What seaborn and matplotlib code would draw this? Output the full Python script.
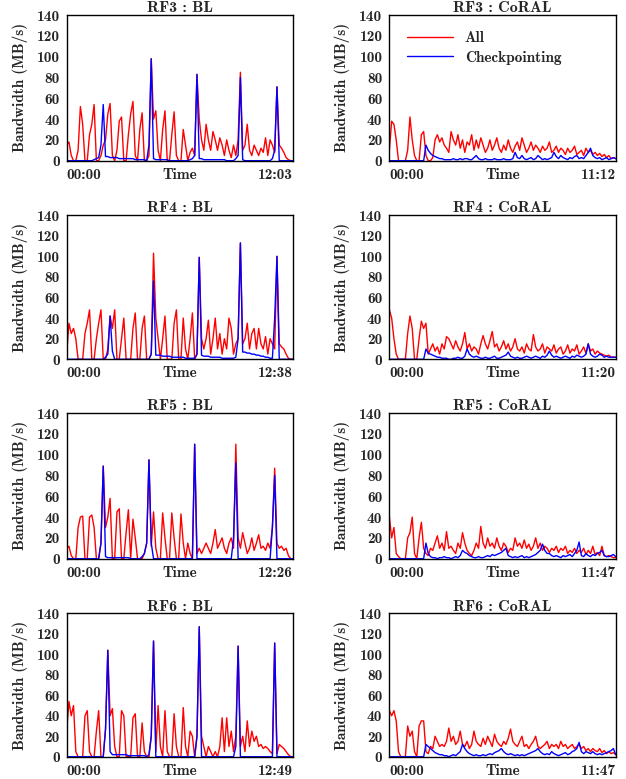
import matplotlib
matplotlib.use("Agg")
import matplotlib.pyplot as plt
import seaborn as sns
import pandas as pd

# bandwidth samples (MB/s), evenly spaced in time
rf3_bl_all = [15, 18, 5, 0, 0, 10, 52, 35, 0, 0, 25, 35, 54, 0, 0, 5, 15, 20, 45, 55,
              5, 0, 10, 38, 42, 0, 0, 25, 45, 57, 5, 0, 30, 46, 0, 0, 5, 98, 40, 48,
              10, 0, 30, 48, 0, 0, 25, 47, 5, 0, 0, 30, 15, 0, 8, 12, 5, 83, 40, 20,
              10, 35, 20, 10, 28, 20, 10, 22, 15, 5, 20, 10, 3, 15, 5, 20, 85, 10, 15, 35,
              10, 5, 15, 10, 5, 12, 8, 22, 5, 20, 15, 8, 71, 15, 12, 8, 3, 1, 0, 0]
rf3_bl_ckpt = [0, 0, 0, 0, 0, 0, 0, 0, 0, 0, 0, 0, 1, 2, 3, 15, 54, 4, 4, 3,
               3, 3, 3, 2, 2, 2, 2, 2, 2, 2, 1, 1, 1, 1, 1, 0, 15, 98, 2, 1,
               1, 1, 1, 1, 1, 0, 0, 0, 0, 0, 0, 0, 0, 0, 1, 2, 5, 83, 2, 2,
               1, 1, 1, 1, 1, 1, 1, 1, 1, 1, 0, 0, 0, 0, 2, 5, 80, 1, 0, 0,
               0, 0, 0, 0, 0, 0, 0, 0, 0, 0, 2, 10, 71, 0, 0, 0, 0, 0, 0, 0]

rf3_coral_all = [10, 38, 35, 20, 0, 0, 0, 0, 10, 42, 20, 5, 0, 0, 25, 28, 5, 0, 0, 3,
                 20, 25, 18, 22, 15, 12, 8, 28, 20, 15, 25, 12, 20, 8, 18, 15, 25, 10, 20, 12,
                 22, 15, 8, 12, 20, 10, 15, 22, 12, 8, 15, 10, 20, 12, 8, 14, 18, 10, 22, 15,
                 8, 12, 18, 10, 15, 12, 8, 14, 10, 12, 18, 8, 10, 14, 8, 12, 10, 6, 12, 8,
                 10, 14, 6, 8, 10, 5, 12, 8, 10, 6, 8, 5, 7, 4, 6, 3, 5, 2, 3, 2]
rf3_coral_ckpt = [0, 0, 0, 0, 0, 0, 0, 0, 0, 0, 0, 0, 0, 0, 0, 0, 15, 10, 7, 5,
                  4, 3, 2, 2, 1, 1, 1, 1, 2, 1, 1, 2, 1, 2, 2, 1, 1, 3, 5, 2,
                  1, 1, 2, 1, 1, 1, 2, 1, 1, 1, 2, 1, 1, 1, 2, 8, 3, 2, 5, 2,
                  1, 2, 3, 1, 2, 5, 3, 1, 2, 1, 2, 3, 8, 4, 2, 5, 3, 2, 1, 3,
                  2, 4, 5, 2, 3, 2, 5, 8, 12, 5, 3, 2, 3, 1, 2, 3, 1, 2, 3, 2]

rf4_bl_all = [5, 35, 25, 30, 20, 0, 0, 0, 25, 35, 48, 0, 0, 20, 35, 48, 0, 0, 10, 42,
              30, 48, 0, 0, 20, 40, 0, 0, 0, 30, 45, 0, 0, 30, 42, 0, 0, 5, 103, 40,
              20, 0, 20, 42, 0, 0, 0, 35, 48, 0, 0, 40, 10, 0, 20, 45, 0, 5, 99, 20,
              10, 20, 38, 5, 20, 40, 10, 25, 5, 20, 10, 40, 30, 5, 15, 20, 113, 15, 20, 35,
              10, 25, 30, 10, 30, 15, 10, 22, 5, 20, 15, 10, 100, 15, 12, 10, 5, 1, 0, 0]
rf4_bl_ckpt = [0, 0, 0, 0, 0, 0, 0, 0, 0, 0, 0, 0, 0, 0, 0, 0, 0, 2, 5, 42,
               8, 0, 0, 0, 0, 0, 0, 0, 0, 0, 0, 0, 0, 0, 0, 0, 0, 5, 76, 4,
               4, 4, 3, 3, 3, 3, 2, 2, 2, 2, 2, 2, 1, 1, 1, 1, 1, 5, 99, 4,
               3, 3, 3, 2, 2, 2, 2, 2, 1, 1, 1, 1, 1, 1, 2, 20, 113, 7, 7, 6,
               6, 5, 5, 4, 4, 3, 3, 2, 2, 1, 1, 40, 100, 0, 0, 0, 0, 0, 0, 0]

rf4_coral_all = [48, 40, 20, 5, 0, 0, 0, 0, 25, 42, 30, 0, 0, 20, 37, 30, 35, 5, 10, 15,
                 8, 12, 5, 15, 10, 22, 20, 15, 10, 18, 12, 8, 15, 26, 10, 15, 8, 12, 10, 5,
                 15, 23, 15, 10, 18, 27, 12, 15, 8, 12, 18, 10, 15, 8, 12, 20, 10, 8, 12, 6,
                 15, 10, 8, 24, 12, 8, 10, 15, 6, 12, 10, 8, 14, 6, 10, 12, 5, 8, 14, 6,
                 10, 8, 14, 5, 8, 12, 6, 15, 8, 10, 5, 8, 6, 5, 4, 3, 4, 2, 2, 2]
rf4_coral_ckpt = [0, 0, 0, 0, 0, 0, 0, 0, 0, 0, 0, 0, 0, 0, 0, 0, 10, 6, 5, 4,
                  3, 2, 2, 1, 1, 1, 0, 0, 1, 1, 2, 1, 1, 3, 10, 5, 3, 2, 3, 2,
                  1, 1, 2, 1, 1, 2, 3, 1, 1, 2, 3, 4, 7, 3, 2, 1, 2, 1, 1, 2,
                  3, 2, 1, 2, 3, 2, 1, 3, 2, 4, 8, 4, 2, 3, 2, 1, 2, 3, 2, 1,
                  3, 2, 4, 3, 2, 3, 5, 15, 5, 3, 2, 3, 5, 4, 2, 3, 2, 2, 2, 2]

rf5_bl_all = [10, 12, 3, 0, 0, 30, 40, 41, 0, 0, 40, 42, 30, 0, 0, 15, 89, 30, 40, 58,
              0, 0, 45, 48, 0, 0, 25, 47, 0, 38, 20, 0, 0, 0, 5, 15, 95, 12, 45, 10,
              0, 0, 44, 20, 0, 0, 44, 20, 0, 0, 43, 15, 0, 15, 5, 0, 110, 5, 10, 5,
              10, 15, 10, 5, 15, 28, 10, 15, 20, 10, 5, 15, 20, 10, 110, 20, 10, 25, 15, 5,
              10, 20, 8, 15, 23, 10, 12, 8, 15, 10, 30, 87, 15, 10, 12, 8, 10, 3, 0, 0]
rf5_bl_ckpt = [0, 0, 0, 0, 0, 0, 0, 0, 0, 0, 0, 0, 0, 0, 0, 15, 89, 2, 1, 1,
               1, 1, 1, 1, 1, 1, 1, 1, 0, 0, 0, 0, 0, 2, 5, 15, 95, 15, 0, 0,
               0, 0, 0, 0, 0, 0, 0, 0, 0, 0, 0, 0, 0, 0, 0, 0, 110, 0, 0, 0,
               0, 0, 0, 0, 0, 0, 0, 0, 0, 0, 0, 0, 0, 20, 92, 0, 0, 0, 0, 0,
               0, 0, 0, 0, 0, 0, 0, 0, 0, 0, 30, 80, 0, 0, 0, 0, 0, 0, 0, 0]

rf5_coral_all = [40, 20, 30, 5, 2, 0, 0, 0, 20, 25, 40, 5, 0, 20, 35, 10, 5, 3, 10, 8,
                 15, 22, 10, 15, 8, 26, 10, 12, 8, 5, 15, 10, 25, 15, 8, 5, 3, 8, 15, 10,
                 31, 15, 10, 20, 12, 15, 10, 20, 12, 8, 15, 12, 6, 10, 8, 20, 12, 15, 10, 18,
                 10, 14, 8, 12, 20, 10, 15, 8, 12, 10, 6, 10, 8, 12, 6, 10, 8, 12, 5, 8,
                 6, 10, 5, 8, 6, 10, 4, 8, 5, 12, 4, 6, 3, 12, 3, 2, 3, 2, 1, 1]
rf5_coral_ckpt = [0, 0, 0, 0, 0, 0, 0, 0, 0, 0, 0, 0, 0, 0, 0, 0, 15, 5, 2, 1,
                  1, 0, 1, 1, 2, 1, 1, 0, 1, 2, 1, 3, 8, 6, 5, 3, 2, 1, 1, 2,
                  1, 1, 2, 3, 2, 4, 3, 4, 5, 6, 8, 10, 3, 2, 1, 2, 1, 2, 3, 1,
                  2, 1, 2, 3, 4, 6, 8, 14, 8, 5, 5, 3, 2, 3, 2, 1, 3, 2, 3, 4,
                  2, 5, 8, 16, 3, 2, 5, 3, 2, 4, 3, 5, 6, 8, 3, 2, 2, 3, 4, 2]

rf6_bl_all = [25, 54, 40, 50, 5, 0, 0, 0, 40, 45, 5, 0, 0, 25, 45, 0, 0, 27, 104, 40,
              47, 10, 0, 0, 45, 40, 0, 0, 0, 38, 42, 0, 0, 33, 5, 0, 0, 20, 113, 5,
              50, 10, 0, 45, 5, 0, 0, 42, 10, 0, 0, 48, 10, 0, 25, 20, 0, 20, 127, 20,
              10, 0, 10, 5, 0, 5, 0, 10, 38, 5, 38, 10, 25, 5, 20, 108, 10, 20, 5, 35,
              10, 25, 15, 20, 10, 12, 8, 10, 8, 5, 3, 111, 3, 12, 10, 8, 5, 2, 0, 0]
rf6_bl_ckpt = [0, 0, 0, 0, 0, 0, 0, 0, 0, 0, 0, 0, 0, 0, 0, 0, 0, 27, 104, 5,
               2, 2, 2, 2, 2, 2, 2, 1, 1, 1, 1, 1, 1, 1, 1, 0, 2, 20, 113, 0,
               0, 0, 0, 0, 0, 0, 0, 0, 0, 0, 0, 0, 0, 0, 0, 0, 0, 20, 127, 0,
               0, 0, 0, 0, 0, 0, 0, 0, 0, 0, 0, 0, 0, 0, 10, 108, 0, 0, 0, 0,
               0, 0, 0, 0, 0, 0, 0, 0, 0, 0, 0, 111, 0, 0, 0, 0, 0, 0, 0, 0]

rf6_coral_all = [45, 40, 45, 35, 5, 0, 0, 0, 30, 20, 25, 5, 0, 30, 35, 35, 5, 3, 10, 8,
                 20, 15, 10, 12, 10, 15, 28, 15, 20, 12, 15, 25, 12, 10, 15, 8, 12, 25, 15, 12,
                 10, 18, 12, 20, 15, 10, 22, 15, 12, 10, 15, 12, 18, 27, 15, 12, 10, 15, 20, 10,
                 12, 8, 12, 15, 20, 10, 8, 10, 12, 15, 8, 12, 10, 12, 8, 15, 10, 12, 8, 10,
                 12, 8, 10, 12, 8, 10, 6, 8, 5, 8, 6, 5, 8, 4, 6, 3, 5, 3, 4, 2]
rf6_coral_ckpt = [0, 0, 0, 0, 0, 0, 0, 0, 0, 0, 0, 0, 0, 0, 0, 0, 12, 10, 8, 6,
                  4, 3, 2, 2, 1, 1, 0, 1, 2, 1, 3, 5, 12, 8, 5, 3, 2, 1, 2, 1,
                  1, 2, 1, 2, 3, 2, 4, 5, 6, 8, 5, 3, 2, 3, 2, 1, 2, 1, 2, 1,
                  2, 3, 4, 5, 6, 8, 5, 3, 2, 3, 2, 5, 3, 2, 1, 2, 3, 4, 2, 3,
                  5, 6, 8, 14, 5, 3, 5, 4, 3, 5, 3, 2, 3, 2, 3, 4, 5, 6, 8, 2]

titles = ["RF3 : BL", "RF3 : CoRAL", "RF4 : BL", "RF4 : CoRAL",
          "RF5 : BL", "RF5 : CoRAL", "RF6 : BL", "RF6 : CoRAL"]
end_times = ["12:03", "11:12", "12:38", "11:20", "12:26", "11:47", "12:49", "11:47"]
all_series = [rf3_bl_all, rf3_coral_all, rf4_bl_all, rf4_coral_all,
              rf5_bl_all, rf5_coral_all, rf6_bl_all, rf6_coral_all]
ckpt_series = [rf3_bl_ckpt, rf3_coral_ckpt, rf4_bl_ckpt, rf4_coral_ckpt,
               rf5_bl_ckpt, rf5_coral_ckpt, rf6_bl_ckpt, rf6_coral_ckpt]
yticks = [0, 20, 40, 60, 80, 100, 120, 140]

sns.set_style("white")
plt.rcParams["font.family"] = "cmb10"
plt.rcParams["font.size"] = 11
plt.rcParams["axes.unicode_minus"] = False

fig = plt.figure(figsize=(6.26, 7.79), dpi=100)
col_left = [0.1065, 0.622]
row_box = [(0.7937, 0.187), (0.5388, 0.185), (0.2828, 0.187), (0.0286, 0.184)]

for k in range(8):
    r, c = divmod(k, 2)
    ax = fig.add_axes([col_left[c], row_box[r][0], 0.3615, row_box[r][1]])
    red = all_series[k]
    blue = ckpt_series[k]
    df_all = pd.DataFrame({"t": range(len(red)), "bw": red})
    df_ck = pd.DataFrame({"t": range(len(blue)), "bw": blue})
    sns.lineplot(data=df_all, x="t", y="bw", color="#ff0000", lw=1.0,
                 estimator=None, ax=ax, label="All")
    sns.lineplot(data=df_ck, x="t", y="bw", color="#0000ff", lw=1.0,
                 estimator=None, ax=ax, label="Checkpointing")
    n = len(red) - 1
    ax.set_xlim(0, n)
    ax.set_ylim(0, 140)
    ax.set_yticks(yticks)
    ax.set_xticks([0, n])
    ax.set_xticklabels(["00:00", end_times[k]])
    lbls = ax.get_xticklabels()
    lbls[0].set_ha("left")
    lbls[1].set_ha("right")
    ax.tick_params(axis="x", length=0, pad=5)
    ax.tick_params(axis="y", direction="in", length=4, color="#888888", pad=5)
    for s in ax.spines.values():
        s.set_color("black")
        s.set_linewidth(1.0)
    ax.set_title(titles[k], pad=2, fontsize=11.5)
    ax.set_xlabel("Time")
    ax.xaxis.set_label_coords(0.5, -0.048)
    ax.set_ylabel("Bandwidth (MB/s)")
    ax.yaxis.set_label_coords(-0.172, 0.5)
    if k == 1:
        ax.legend(loc="upper left", bbox_to_anchor=(0.05, 0.93), frameon=False,
                  handlelength=3.0, handletextpad=0.8, labelspacing=0.35,
                  borderaxespad=0)
    else:
        ax.get_legend().remove()

fig.savefig("out.png", dpi=100)
